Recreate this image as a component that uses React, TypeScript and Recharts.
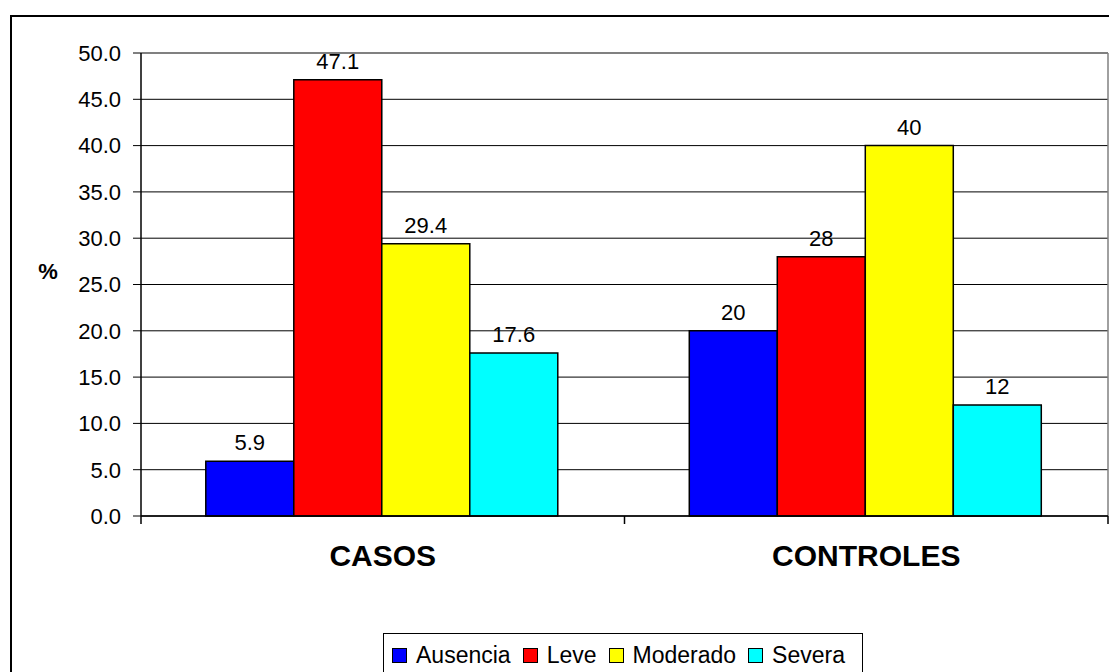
import { BarChart, Bar, XAxis, YAxis, CartesianGrid, LabelList, ReferenceLine } from "recharts";

// categories and series values (percent)
const categories = ["CASOS", "CONTROLES"];
const ausencia = [5.9, 20];
const leve = [47.1, 28];
const moderado = [29.4, 40];
const severa = [17.6, 12];
const yTicks = [0, 5, 10, 15, 20, 25, 30, 35, 40, 45, 50];

const series = [
  { key: "ausencia", name: "Ausencia", color: "#0000FF", values: ausencia },
  { key: "leve", name: "Leve", color: "#FF0000", values: leve },
  { key: "moderado", name: "Moderado", color: "#FFFF00", values: moderado },
  { key: "severa", name: "Severa", color: "#00FFFF", values: severa },
];

const data = categories.map((c, i) => {
  const row: any = { name: c };
  series.forEach((s) => (row[s.key] = s.values[i]));
  return row;
});

const FONT = "'Liberation Sans', Arial, sans-serif";

// category label + tick marks on the category boundaries
const CategoryTick = (props: any) => {
  const { x, y, payload, index } = props;
  const half = payload.offset ?? 241.75;
  const last = index === categories.length - 1;
  return (
    <g>
      <line x1={x - half} y1={y} x2={x - half} y2={y + 8} stroke="#000" strokeWidth={1.5} />
      {last && <line x1={x + half} y1={y} x2={x + half} y2={y + 8} stroke="#000" strokeWidth={1.5} />}
      <text x={x} y={y + 50} textAnchor="middle" fontFamily={FONT} fontSize={30} fontWeight="bold" fill="#000">
        {payload.value}
      </text>
    </g>
  );
};

const PercentLabel = (props: any) => {
  const { viewBox } = props;
  return (
    <text x={48} y={viewBox.y + viewBox.height / 2 - 6} textAnchor="middle" fontFamily={FONT} fontSize={22} fontWeight="bold" fill="#000">
      %
    </text>
  );
};

export default function App() {
  return (
    <div style={{ position: "absolute", left: 0, top: 0, width: 1109, height: 672, overflow: "hidden", background: "#fff" }}>
      {/* outer chart border */}
      <div style={{ position: "absolute", left: 10, top: 15, width: 1120, height: 700, border: "2px solid #000", boxSizing: "border-box" }} />
      <div style={{ position: "absolute", left: 0, top: 0 }}>
        <BarChart
          width={1109}
          height={672}
          data={data}
          margin={{ top: 53, right: 1, bottom: 0, left: 0 }}
          barCategoryGap="13.4%"
          barGap={0}
        >
          <CartesianGrid vertical={false} stroke="#000" strokeWidth={1} />
          <CartesianGrid
            horizontal={false}
            stroke="#808080"
            strokeWidth={1.5}
            verticalCoordinatesGenerator={({ offset }: any) => [offset.left + offset.width]}
          />
          <ReferenceLine y={50} stroke="#808080" strokeWidth={1.5} />
          <XAxis
            dataKey="name"
            height={156}
            axisLine={{ stroke: "#000", strokeWidth: 1.5 }}
            tickLine={false}
            tickSize={0}
            tickMargin={0}
            tick={<CategoryTick />}
            interval={0}
          />
          <YAxis
            width={141}
            domain={[0, 50]}
            ticks={yTicks}
            interval={0}
            axisLine={{ stroke: "#000", strokeWidth: 1.5 }}
            tickLine={{ stroke: "#000" }}
            tickSize={8}
            tickMargin={12}
            tickFormatter={(v: number) => v.toFixed(1)}
            tick={{ fontFamily: FONT, fontSize: 22, fill: "#000" }}
            label={<PercentLabel />}
          />
          {series.map((s) => (
            <Bar key={s.key} dataKey={s.key} name={s.name} fill={s.color} stroke="#000" strokeWidth={1.5} isAnimationActive={false}>
              <LabelList dataKey={s.key} position="top" offset={11} fontFamily={FONT} fontSize={22} fill="#000" />
            </Bar>
          ))}
        </BarChart>
      </div>
      {/* legend */}
      <div
        style={{
          position: "absolute",
          left: 383,
          top: 633,
          width: 480,
          height: 60,
          border: "1px solid #000",
          boxSizing: "border-box",
          background: "#fff",
          fontFamily: FONT,
          fontSize: 23,
          color: "#000",
          display: "flex",
          alignItems: "flex-start",
          paddingLeft: 8,
          paddingTop: 8,
        }}
      >
        {series.map((s) => (
          <div key={s.key} style={{ display: "flex", alignItems: "center", marginRight: 12, lineHeight: "26px" }}>
            <span style={{ display: "inline-block", width: 15, height: 15, background: s.color, border: "1.5px solid #000", boxSizing: "border-box", marginRight: 9 }} />
            <span>{s.name}</span>
          </div>
        ))}
      </div>
    </div>
  );
}
